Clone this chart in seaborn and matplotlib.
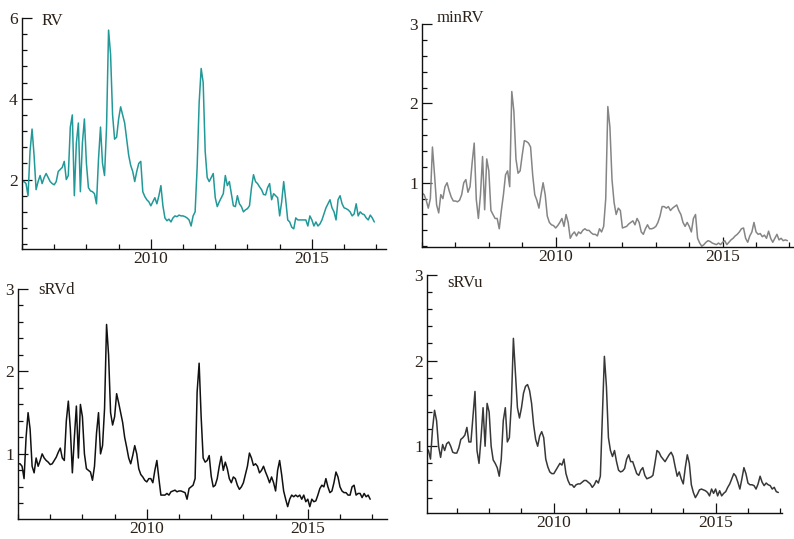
import numpy as np
import matplotlib
matplotlib.use("Agg")
import matplotlib.pyplot as plt
from matplotlib.ticker import MultipleLocator
import seaborn as sns

# values, 16 obs per year starting 2006.0 (one row per year)
START_YEAR = 2006.0
STEPS_PER_YEAR = 16

rv = [
    1.95, 1.95, 1.9, 1.6, 2.7, 3.25, 2.6, 1.75, 1.95, 2.1, 1.9, 2.05, 2.15, 2.05, 1.95, 1.9,
    1.87, 1.95, 2.2, 2.25, 2.3, 2.45, 2.0, 2.1, 3.3, 3.6, 1.6, 2.9, 3.4, 1.7, 2.9, 3.5,
    2.4, 1.8, 1.72, 1.7, 1.65, 1.4, 2.5, 3.3, 2.4, 2.1, 3.3, 5.7, 5.1, 3.6, 3.0, 3.05,
    3.5, 3.8, 3.6, 3.4, 3.0, 2.6, 2.35, 2.2, 1.95, 2.2, 2.4, 2.45, 1.7, 1.58, 1.5, 1.45,
    1.35, 1.45, 1.55, 1.4, 1.6, 1.85, 1.35, 1.05, 0.98, 1.02, 0.95, 1.05, 1.1, 1.08, 1.12, 1.1,
    1.1, 1.08, 1.05, 1.0, 0.85, 1.1, 1.2, 2.3, 3.9, 4.75, 4.4, 2.7, 2.05, 1.95, 2.05, 2.15,
    1.55, 1.33, 1.45, 1.55, 1.65, 2.1, 1.85, 1.95, 1.65, 1.35, 1.33, 1.6, 1.4, 1.33, 1.2, 1.25,
    1.28, 1.35, 1.8, 2.12, 1.95, 1.9, 1.82, 1.75, 1.63, 1.62, 1.8, 1.9, 1.5, 1.65, 1.6, 1.55,
    1.1, 1.45, 1.95, 1.5, 1.0, 0.95, 0.82, 0.78, 1.05, 1.0, 1.0, 1.0, 1.0, 1.0, 0.85, 1.1,
    1.0, 0.85, 0.95, 0.85, 0.9, 1.0, 1.15, 1.3, 1.4, 1.5, 1.3, 1.2, 1.0, 1.5, 1.6, 1.4,
    1.3, 1.28, 1.25, 1.2, 1.1, 1.15, 1.4, 1.1, 1.2, 1.15, 1.13, 1.05, 1.0, 1.12, 1.05, 0.95,
]

min_rv = [
    0.87, 0.85, 0.78, 0.68, 0.8, 1.45, 1.1, 0.72, 0.62, 0.85, 0.8, 0.95, 1.0, 0.9, 0.82, 0.77,
    0.77, 0.76, 0.78, 0.85, 1.0, 1.04, 0.88, 0.95, 1.25, 1.5, 0.79, 0.55, 0.85, 1.33, 0.66, 1.3,
    1.15, 0.65, 0.6, 0.55, 0.55, 0.42, 0.65, 0.85, 1.1, 1.15, 0.95, 2.15, 1.9, 1.3, 1.12, 1.15,
    1.35, 1.53, 1.52, 1.5, 1.45, 1.1, 0.85, 0.78, 0.68, 0.85, 1.0, 0.85, 0.58, 0.5, 0.47, 0.46,
    0.43, 0.46, 0.5, 0.55, 0.45, 0.6, 0.5, 0.3, 0.35, 0.38, 0.33, 0.38, 0.36, 0.4, 0.42, 0.4,
    0.4, 0.37, 0.35, 0.35, 0.33, 0.42, 0.38, 0.45, 0.8, 1.96, 1.7, 1.04, 0.75, 0.6, 0.68, 0.65,
    0.43, 0.44, 0.45, 0.48, 0.5, 0.52, 0.47, 0.55, 0.5, 0.38, 0.35, 0.42, 0.47, 0.42, 0.42, 0.43,
    0.45, 0.5, 0.58, 0.7, 0.7, 0.68, 0.7, 0.65, 0.68, 0.7, 0.72, 0.65, 0.6, 0.5, 0.45, 0.5,
    0.45, 0.38, 0.55, 0.6, 0.3, 0.24, 0.2, 0.22, 0.25, 0.27, 0.26, 0.24, 0.23, 0.22, 0.24, 0.22,
    0.25, 0.27, 0.22, 0.25, 0.28, 0.3, 0.33, 0.35, 0.38, 0.42, 0.43, 0.3, 0.25, 0.33, 0.38, 0.5,
    0.38, 0.35, 0.36, 0.32, 0.34, 0.3, 0.39, 0.3, 0.25, 0.3, 0.35, 0.28, 0.3, 0.27, 0.28, 0.27,
]

srv_d = [
    0.88, 0.88, 0.85, 0.7, 1.2, 1.5, 1.3, 0.85, 0.77, 0.95, 0.85, 0.92, 1.0, 0.95, 0.92, 0.9,
    0.87, 0.88, 0.92, 0.96, 1.02, 1.07, 0.95, 0.92, 1.4, 1.64, 1.3, 0.77, 1.2, 1.58, 0.95, 1.6,
    1.45, 1.0, 0.82, 0.8, 0.78, 0.68, 0.85, 1.25, 1.5, 1.0, 1.1, 1.55, 2.57, 2.2, 1.5, 1.35,
    1.45, 1.73, 1.62, 1.5, 1.38, 1.2, 1.08, 0.95, 0.88, 0.98, 1.1, 1.0, 0.82, 0.75, 0.72, 0.68,
    0.66, 0.7, 0.7, 0.65, 0.8, 0.92, 0.7, 0.5, 0.5, 0.5, 0.52, 0.5, 0.54, 0.55, 0.56, 0.54,
    0.55, 0.55, 0.54, 0.53, 0.45, 0.58, 0.6, 0.62, 0.7, 1.75, 2.1, 1.45, 0.95, 0.9, 0.92, 0.98,
    0.73, 0.6, 0.62, 0.7, 0.85, 0.97, 0.8, 0.9, 0.82, 0.7, 0.65, 0.72, 0.7, 0.62, 0.57, 0.6,
    0.65, 0.75, 0.85, 1.01, 0.95, 0.86, 0.88, 0.85, 0.77, 0.8, 0.85, 0.78, 0.72, 0.65, 0.72, 0.65,
    0.55, 0.8, 0.92, 0.75, 0.55, 0.45, 0.36, 0.45, 0.5, 0.48, 0.5, 0.48, 0.5, 0.45, 0.5, 0.42,
    0.45, 0.36, 0.45, 0.42, 0.43, 0.5, 0.58, 0.62, 0.6, 0.7, 0.6, 0.53, 0.55, 0.65, 0.78, 0.72,
    0.6, 0.55, 0.53, 0.53, 0.5, 0.5, 0.6, 0.62, 0.5, 0.52, 0.52, 0.47, 0.52, 0.48, 0.5, 0.45,
]

srv_u = [
    0.98, 0.98, 0.95, 0.85, 1.2, 1.42, 1.3, 1.0, 0.87, 1.02, 0.95, 1.03, 1.05, 1.0, 0.93, 0.92,
    0.92, 0.98, 1.08, 1.1, 1.13, 1.22, 1.05, 1.05, 1.35, 1.64, 0.95, 0.8, 1.1, 1.45, 1.0, 1.5,
    1.4, 1.0, 0.84, 0.8, 0.75, 0.65, 0.85, 1.3, 1.45, 1.05, 1.1, 1.5, 2.26, 1.85, 1.45, 1.33,
    1.45, 1.62, 1.7, 1.72, 1.65, 1.5, 1.25, 1.08, 1.0, 1.12, 1.17, 1.1, 0.85, 0.76, 0.7, 0.68,
    0.68, 0.72, 0.76, 0.8, 0.78, 0.85, 0.68, 0.6, 0.55, 0.55, 0.52, 0.55, 0.56, 0.56, 0.58, 0.6,
    0.6, 0.58, 0.56, 0.52, 0.55, 0.6, 0.57, 0.65, 1.35, 2.05, 1.7, 1.1, 0.95, 0.88, 0.95, 0.82,
    0.72, 0.7, 0.71, 0.74, 0.85, 0.9, 0.82, 0.82, 0.75, 0.68, 0.66, 0.72, 0.75, 0.66, 0.62, 0.63,
    0.64, 0.66, 0.8, 0.95, 0.93, 0.88, 0.85, 0.82, 0.86, 0.9, 0.93, 0.88, 0.76, 0.65, 0.7, 0.62,
    0.56, 0.75, 0.9, 0.8, 0.55, 0.46, 0.4, 0.44, 0.49, 0.5, 0.49, 0.48, 0.46, 0.42, 0.5, 0.45,
    0.5, 0.42, 0.48, 0.42, 0.45, 0.47, 0.52, 0.56, 0.62, 0.68, 0.65, 0.58, 0.5, 0.62, 0.75, 0.68,
    0.57, 0.55, 0.55, 0.54, 0.5, 0.56, 0.65, 0.58, 0.54, 0.57, 0.55, 0.54, 0.5, 0.52, 0.47, 0.46,
]

tempo = START_YEAR + np.arange(len(rv)) / STEPS_PER_YEAR

sns.set_theme(style="ticks")
plt.rcParams['font.family'] = ['Liberation Serif', 'DejaVu Serif']

COR_TEXTO = '#2b2119'

# (series, label, colour, axes rect, xlim, ylim, y major, y minor, label pos)
paineis = [
    (rv, 'RV', '#229999', [0.0277, 0.538, 0.4584, 0.4286], (2006.0, 2017.3), (0.28, 6.0), 2, 0.4, (0.055, 0.985)),
    (min_rv, 'minRV', '#858585', [0.5315, 0.5417, 0.467, 0.4137], (2006.0, 2017.1), (0.19, 3.0), 1, 0.2, (0.04, 1.025)),
    (srv_d, 'sRVd', '#111111', [0.0227, 0.0371, 0.4647, 0.4267], (2006.0, 2017.46), (0.21, 3.0), 1, 0.2, (0.054, 0.995)),
    (srv_u, 'sRVu', '#383838', [0.5378, 0.0482, 0.447, 0.4416], (2006.08, 2017.05), (0.22, 3.0), 1, 0.2, (0.056, 0.966)),
]

fig = plt.figure(figsize=(7.94, 5.39), dpi=100)

for serie, nome, cor, rect, xlim, ylim, maj, mnr, pos in paineis:
    ax = fig.add_axes(rect)
    sns.lineplot(x=tempo, y=serie, ax=ax, color=cor, lw=1.1)
    ax.set_xlim(*xlim)
    ax.set_ylim(*ylim)
    ax.xaxis.set_major_locator(MultipleLocator(5))
    ax.xaxis.set_minor_locator(MultipleLocator(1))
    ax.yaxis.set_major_locator(MultipleLocator(maj))
    ax.yaxis.set_minor_locator(MultipleLocator(mnr))
    ax.xaxis.set_major_formatter(matplotlib.ticker.FormatStrFormatter('%d'))
    ax.yaxis.set_major_formatter(matplotlib.ticker.FormatStrFormatter('%d'))
    ax.tick_params(which='both', direction='in', colors='#111111', labelcolor=COR_TEXTO, labelsize=12.5)
    ax.tick_params(which='major', length=7, width=0.9)
    ax.tick_params(axis='x', which='major', pad=1.5)
    ax.tick_params(axis='y', which='major', pad=3)
    ax.tick_params(which='minor', length=3.5, width=0.9)
    sns.despine(ax=ax)
    for lado in ['left', 'bottom']:
        ax.spines[lado].set_color('#111111')
        ax.spines[lado].set_linewidth(1.0)
    ax.set_xlabel('')
    ax.set_ylabel('')
    ax.patch.set_alpha(0)
    ax.text(pos[0], pos[1], nome, transform=ax.transAxes, ha='left', va='center',
            fontsize=12, color=COR_TEXTO)

fig.savefig('out.png', dpi=100)
